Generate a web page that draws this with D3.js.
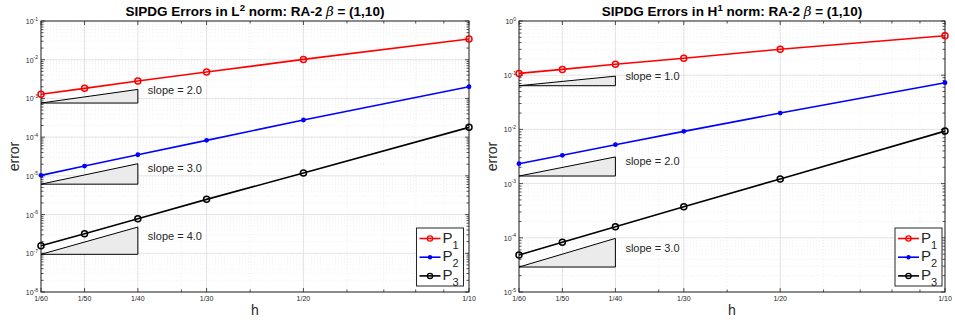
<!DOCTYPE html>
<html>
<head>
<meta charset="utf-8">
<script src="https://cdn.jsdelivr.net/npm/d3@7"></script>
<style>
body { margin: 0; background: #fff; }
text { font-family: "Liberation Sans", Arial, Helvetica, sans-serif; fill: #262626; }
</style>
</head>
<body>
<div id="chart"></div>
<script>
const width = 955, height = 322;

// mesh sizes
const hValues = [1/60, 1/50, 1/40, 1/30, 1/20, 1/10];
const hLabels = ["1/60", "1/50", "1/40", "1/30", "1/20", "1/10"];
const hMinor = [0.03, 0.04, 0.06, 0.07, 0.08, 0.09];

// L2 errors
const l2P1 = [1.28e-3, 1.82e-3, 2.82e-3, 4.81e-3, 1.02e-2, 3.43e-2];
const l2P2 = [1.03e-5, 1.79e-5, 3.51e-5, 8.26e-5, 2.77e-4, 2.0e-3];
const l2P3 = [1.56e-7, 3.19e-7, 7.78e-7, 2.47e-6, 1.18e-5, 1.79e-4];

// H1 errors
const h1P1 = [0.108, 0.128, 0.159, 0.205, 0.301, 0.536];
const h1P2 = [2.33e-3, 3.33e-3, 5.22e-3, 9.2e-3, 2.0e-2, 7.28e-2];
const h1P3 = [4.82e-5, 8.26e-5, 1.6e-4, 3.75e-4, 1.22e-3, 9.3e-3];

// slope triangles (base value at h=1/60..1/40) and label heights
const l2Slopes = [2, 3, 4];
const l2TriBase = [7.6e-4, 6.1e-6, 9.4e-8];
const l2LabelY = [1.65e-3, 1.62e-5, 2.83e-7];
const h1Slopes = [1, 2, 3];
const h1TriBase = [6.4e-2, 1.38e-3, 2.89e-5];
const h1LabelY = [9.8e-2, 2.61e-3, 6.56e-5];

const seriesNames = ["1", "2", "3"];
const seriesColors = ["#ff0000", "#0000ff", "#000000"];
const seriesMarkers = ["o", ".", "o"];

const svg = d3.select("#chart").append("svg")
    .attr("width", width)
    .attr("height", height);

function drawPanel(opt) {
    let g = svg.append("g");
    let x = d3.scaleLog().domain([1/60, 1/10]).range([opt.left, opt.right]);
    let y = d3.scaleLog().domain(opt.yDomain).range([opt.bottom, opt.top]);

    let lo = Math.round(Math.log10(opt.yDomain[0]));
    let hi = Math.round(Math.log10(opt.yDomain[1]));
    let majorY = d3.range(lo, hi + 1).map(function(e) { return Math.pow(10, e); });
    let minorY = [];
    for (let e = lo; e < hi; e++) {
        for (let m = 2; m <= 9; m++) minorY.push(m * Math.pow(10, e));
    }

    // minor grid
    g.selectAll(".mgy").data(minorY).enter().append("line")
        .attr("x1", opt.left).attr("x2", opt.right)
        .attr("y1", function(d) { return y(d); }).attr("y2", function(d) { return y(d); })
        .attr("stroke", "#ececec").attr("stroke-dasharray", "1,2").attr("stroke-width", 0.8);
    g.selectAll(".mgx").data(hMinor).enter().append("line")
        .attr("y1", opt.top).attr("y2", opt.bottom)
        .attr("x1", function(d) { return x(d); }).attr("x2", function(d) { return x(d); })
        .attr("stroke", "#ececec").attr("stroke-dasharray", "1,2").attr("stroke-width", 0.8);

    // major grid
    g.selectAll(".gy").data(majorY).enter().append("line")
        .attr("x1", opt.left).attr("x2", opt.right)
        .attr("y1", function(d) { return y(d); }).attr("y2", function(d) { return y(d); })
        .attr("stroke", "#dcdcdc").attr("stroke-width", 0.8);
    g.selectAll(".gx").data(hValues).enter().append("line")
        .attr("y1", opt.top).attr("y2", opt.bottom)
        .attr("x1", function(d) { return x(d); }).attr("x2", function(d) { return x(d); })
        .attr("stroke", "#dcdcdc").attr("stroke-width", 0.8);

    // ticks, inward on all four sides
    let tk = g.append("g").attr("stroke", "#262626").attr("stroke-width", 0.8);
    majorY.forEach(function(d) {
        tk.append("line").attr("x1", opt.left).attr("x2", opt.left + 4).attr("y1", y(d)).attr("y2", y(d));
        tk.append("line").attr("x1", opt.right).attr("x2", opt.right - 4).attr("y1", y(d)).attr("y2", y(d));
    });
    minorY.forEach(function(d) {
        tk.append("line").attr("x1", opt.left).attr("x2", opt.left + 2.5).attr("y1", y(d)).attr("y2", y(d));
        tk.append("line").attr("x1", opt.right).attr("x2", opt.right - 2.5).attr("y1", y(d)).attr("y2", y(d));
    });
    hValues.forEach(function(d) {
        tk.append("line").attr("y1", opt.bottom).attr("y2", opt.bottom - 4).attr("x1", x(d)).attr("x2", x(d));
        tk.append("line").attr("y1", opt.top).attr("y2", opt.top + 4).attr("x1", x(d)).attr("x2", x(d));
    });
    hMinor.forEach(function(d) {
        tk.append("line").attr("y1", opt.bottom).attr("y2", opt.bottom - 2.5).attr("x1", x(d)).attr("x2", x(d));
        tk.append("line").attr("y1", opt.top).attr("y2", opt.top + 2.5).attr("x1", x(d)).attr("x2", x(d));
    });

    // box
    g.append("rect")
        .attr("x", opt.left).attr("y", opt.top)
        .attr("width", opt.right - opt.left).attr("height", opt.bottom - opt.top)
        .attr("fill", "none").attr("stroke", "#262626").attr("stroke-width", 1);

    // y tick labels 10^k
    majorY.forEach(function(d) {
        let t = g.append("text")
            .attr("x", opt.left - 3).attr("y", y(d) + 3)
            .style("text-anchor", "end").style("font-size", "7px");
        t.append("tspan").text("10");
        t.append("tspan").attr("dy", -3.5).style("font-size", "5px").text(Math.round(Math.log10(d)));
    });

    // x tick labels
    g.selectAll(".xl").data(hValues).enter().append("text")
        .attr("x", function(d) { return x(d); })
        .attr("y", opt.bottom + 9)
        .style("text-anchor", "middle").style("font-size", "7px")
        .text(function(d, i) { return hLabels[i]; });

    // slope triangles
    opt.slopes.forEach(function(s, i) {
        let b = opt.triBase[i];
        let t = b * Math.pow((1/40) / (1/60), s);
        let pts = [[x(1/60), y(b)], [x(1/40), y(b)], [x(1/40), y(t)]];
        g.append("path")
            .attr("d", d3.line()(pts) + "Z")
            .attr("fill", "#ebebeb").attr("stroke", "#000").attr("stroke-width", 1);
        g.append("text")
            .attr("x", x(1/40) + 10).attr("y", y(opt.labelY[i]) + 4)
            .style("font-size", "11px")
            .text("slope = " + s.toFixed(1));
    });

    // series
    let line = d3.line()
        .x(function(d) { return x(d[0]); })
        .y(function(d) { return y(d[1]); });
    opt.series.forEach(function(vals, i) {
        let pts = hValues.map(function(h, j) { return [h, vals[j]]; });
        g.append("path").datum(pts)
            .attr("d", line)
            .attr("fill", "none").attr("stroke", seriesColors[i]).attr("stroke-width", 1.6);
        g.selectAll(".m" + i).data(pts).enter().append("circle")
            .attr("cx", function(d) { return x(d[0]); })
            .attr("cy", function(d) { return y(d[1]); })
            .attr("r", seriesMarkers[i] === "o" ? 3 : 2.4)
            .attr("fill", seriesMarkers[i] === "o" ? "none" : seriesColors[i])
            .attr("stroke", seriesColors[i])
            .attr("stroke-width", seriesMarkers[i] === "o" ? 1.5 : 0);
    });

    // legend
    let lg = g.append("g");
    lg.append("rect")
        .attr("x", opt.legX).attr("y", 228)
        .attr("width", 47).attr("height", 58)
        .attr("fill", "#fff").attr("stroke", "#262626").attr("stroke-width", 1);
    seriesNames.forEach(function(n, i) {
        let ly = 238.5 + i * 18.7;
        lg.append("line")
            .attr("x1", opt.legX + 3).attr("x2", opt.legX + 24)
            .attr("y1", ly).attr("y2", ly)
            .attr("stroke", seriesColors[i]).attr("stroke-width", 1.6);
        lg.append("circle")
            .attr("cx", opt.legX + 13.5).attr("cy", ly)
            .attr("r", seriesMarkers[i] === "o" ? 2.6 : 2.2)
            .attr("fill", seriesMarkers[i] === "o" ? "none" : seriesColors[i])
            .attr("stroke", seriesColors[i])
            .attr("stroke-width", seriesMarkers[i] === "o" ? 1.3 : 0);
        let t = lg.append("text")
            .attr("x", opt.legX + 26).attr("y", ly + 4)
            .style("font-size", "15px");
        t.append("tspan").text("P");
        t.append("tspan").attr("dy", 6).style("font-size", "11px").text(n);
    });

    // title
    let cx = (opt.left + opt.right) / 2;
    let tt = g.append("text")
        .attr("x", cx).attr("y", 16)
        .style("text-anchor", "middle")
        .style("font-size", "13.5px").style("font-weight", "bold").style("fill", "#000");
    tt.append("tspan").text("SIPDG Errors in " + opt.norm);
    tt.append("tspan").attr("dy", -5).style("font-size", "9.5px").text(opt.sup);
    tt.append("tspan").attr("dy", 5).text(" norm: RA-2 ");
    tt.append("tspan").style("font-style", "italic").style("font-weight", "normal").style("font-family", "DejaVu Serif, serif").text("β");
    tt.append("tspan").text(" = (1,10)");

    // axis labels
    g.append("text")
        .attr("transform", "translate(" + (opt.left - 22) + "," + ((opt.top + opt.bottom) / 2) + ") rotate(-90)")
        .style("text-anchor", "middle").style("font-size", "14px")
        .text("error");
    g.append("text")
        .attr("x", cx).attr("y", 315)
        .style("text-anchor", "middle").style("font-size", "14px")
        .text("h");
}

drawPanel({
    left: 41, right: 469, top: 21, bottom: 292,
    yDomain: [1e-8, 1e-1],
    series: [l2P1, l2P2, l2P3],
    slopes: l2Slopes, triBase: l2TriBase, labelY: l2LabelY,
    legX: 416.5, norm: "L", sup: "2"
});

drawPanel({
    left: 519, right: 945, top: 21, bottom: 292,
    yDomain: [1e-5, 1e0],
    series: [h1P1, h1P2, h1P3],
    slopes: h1Slopes, triBase: h1TriBase, labelY: h1LabelY,
    legX: 895, norm: "H", sup: "1"
});
</script>
</body>
</html>
